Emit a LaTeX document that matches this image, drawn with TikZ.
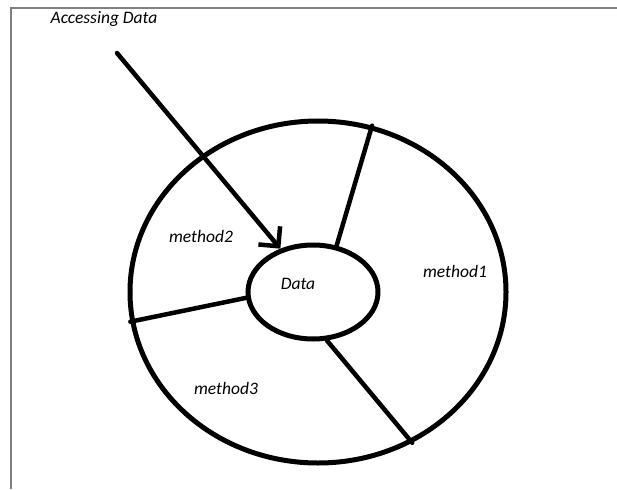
\documentclass[tikz,border=0pt]{standalone}
\usepackage{fontspec}
\setmainfont{Carlito}
\usetikzlibrary{shapes.geometric,arrows.meta}
\tikzset{
  ring/.style = {ellipse, draw, line width=5pt, inner sep=0pt},
  divider/.style = {line width=4.5pt, line cap=round},
  lbl/.style = {font=\itshape\fontsize{17.5}{19}\selectfont, inner sep=0pt}
}

\begin{document}
\begin{tikzpicture}[x=1pt,y=-1pt]
  \useasboundingbox (0,0) rectangle (617,489);
  \draw[gray,line width=1.5pt] (617,8) -- (11,8) -- (11,489);
  \node[ring,minimum width=376pt,minimum height=342pt] (outer) at (318,292) {};
  \node[ring,minimum width=130pt,minimum height=94pt] (data) at (313,292) {};
  % dividers between the methods
  \draw[divider] (data.63) -- (outer.72);
  \draw[divider] (data.185) -- (outer.189.5);
  \draw[divider] (data.286) -- (outer.302);
  \node[lbl] (access) at (104,19) {Accessing Data};
  \coordinate (src) at (117,53);
  \draw[divider,-{Straight Barb[angle=90:20pt]}] (src) -- (data.127);
  \node[lbl] (datalbl) at (298,284) {Data};
  \node[lbl] (m1) at (455,271) {method1};
  \node[lbl] (m2) at (201,236) {method2};
  \node[lbl] (m3) at (226,388) {method3};
\end{tikzpicture}
\end{document}
